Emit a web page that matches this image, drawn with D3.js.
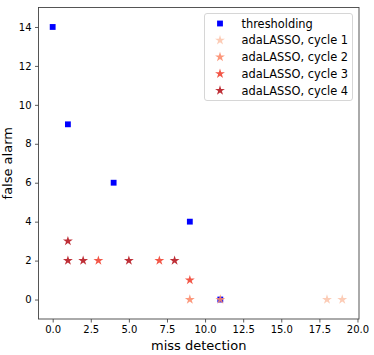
<!DOCTYPE html>
<html>
<head>
<meta charset="utf-8">
<script src="https://cdn.jsdelivr.net/npm/d3@7"></script>
<style>
  body { margin: 0; background: #fff; }
  text { font-family: "DejaVu Sans", sans-serif; fill: #000; }
</style>
</head>
<body>
<div id="chart"></div>
<script>
// data
var thresholding = [[0, 14], [1, 9], [4, 6], [9, 4], [11, 0]];
var cycle1 = [[18, 0], [19, 0]];
var cycle2 = [[9, 0], [11, 0]];
var cycle3 = [[3, 2], [7, 2], [9, 1]];
var cycle4 = [[1, 3], [1, 2], [2, 2], [5, 2], [8, 2]];
var seriesNames = ["thresholding", "adaLASSO, cycle 1", "adaLASSO, cycle 2", "adaLASSO, cycle 3", "adaLASSO, cycle 4"];
var seriesColors = ["#0000ff", "#fcc5ac", "#fc8a6a", "#f0402f", "#b5121b"];
var xTicks = [0, 2.5, 5, 7.5, 10, 12.5, 15, 17.5, 20];
var yTicks = [0, 2, 4, 6, 8, 10, 12, 14];

var W = 374, H = 355;
var margin = {top: 7.5, right: 15, bottom: 36, left: 38.5};
var width = W - margin.left - margin.right,
    height = H - margin.top - margin.bottom;

var xScale = d3.scaleLinear().domain([-0.93, 20.1]).range([0, width]);
var yScale = d3.scaleLinear().domain([-1, 15]).range([height, 0]);

var svg = d3.select("#chart").append("svg")
    .attr("width", W)
    .attr("height", H)
  .append("g")
    .attr("transform", "translate(" + margin.left + "," + margin.top + ")");

var xAxis = d3.axisBottom(xScale).tickValues(xTicks).tickFormat(d3.format(".1f")).tickSize(3.5).tickPadding(3.5);
var yAxis = d3.axisLeft(yScale).tickValues(yTicks).tickFormat(d3.format("d")).tickSize(3.5).tickPadding(3.5);

var gx = svg.append("g").attr("transform", "translate(0," + height + ")").call(xAxis);
var gy = svg.append("g").call(yAxis);
[gx, gy].forEach(function(g) {
  g.select(".domain").remove();
  g.selectAll("line").attr("stroke", "#333").attr("stroke-width", 0.8);
  g.selectAll("text").style("font-size", "10px").style("font-family", "DejaVu Sans").attr("fill", "#222");
});

svg.append("rect")
  .attr("width", width).attr("height", height)
  .attr("fill", "none").attr("stroke", "#444").attr("stroke-width", 0.9);

svg.append("text")
  .attr("x", width / 2).attr("y", height + 31)
  .attr("text-anchor", "middle")
  .style("font-size", "13px")
  .text("miss detection");

svg.append("text")
  .attr("transform", "translate(" + (-27) + "," + (height / 2) + ") rotate(-90)")
  .attr("text-anchor", "middle")
  .style("font-size", "13px")
  .text("false alarm");

var square = d3.symbol().type(d3.symbolSquare).size(34);
var star = d3.symbol().type(d3.symbolStar).size(30);

function drawSeries(data, shape, color) {
  svg.append("g").selectAll("path")
    .data(data)
    .enter().append("path")
    .attr("d", shape)
    .attr("transform", function(d) { return "translate(" + xScale(d[0]) + "," + yScale(d[1]) + ")"; })
    .attr("fill", color)
    .attr("fill-opacity", shape === square ? 1 : 0.88);
}

drawSeries(thresholding, square, seriesColors[0]);
drawSeries(cycle1, star, seriesColors[1]);
drawSeries(cycle2, star, seriesColors[2]);
drawSeries(cycle3, star, seriesColors[3]);
drawSeries(cycle4, star, seriesColors[4]);

// legend
var lx = 204.5 - margin.left, ly = 13.5 - margin.top;
var legend = svg.append("g");
legend.append("rect")
  .attr("x", lx).attr("y", ly)
  .attr("width", 148).attr("height", 87)
  .attr("rx", 2.5)
  .attr("fill", "#fff").attr("fill-opacity", 0.8)
  .attr("stroke", "#ccc").attr("stroke-width", 0.8);

var rows = legend.selectAll(".row")
  .data(seriesNames)
  .enter().append("g")
  .attr("class", "row")
  .attr("transform", function(d, i) { return "translate(" + lx + "," + (ly + 10 + i * 16.75) + ")"; });

rows.append("path")
  .attr("d", function(d, i) { return i === 0 ? square() : star(); })
  .attr("transform", "translate(15.5,0)")
  .attr("fill", function(d, i) { return seriesColors[i]; })
  .attr("fill-opacity", function(d, i) { return i === 0 ? 1 : 0.88; });

rows.append("text")
  .attr("x", 37)
  .attr("dy", "0.35em")
  .style("font-size", "11.4px")
  .text(function(d) { return d; });
</script>
</body>
</html>
